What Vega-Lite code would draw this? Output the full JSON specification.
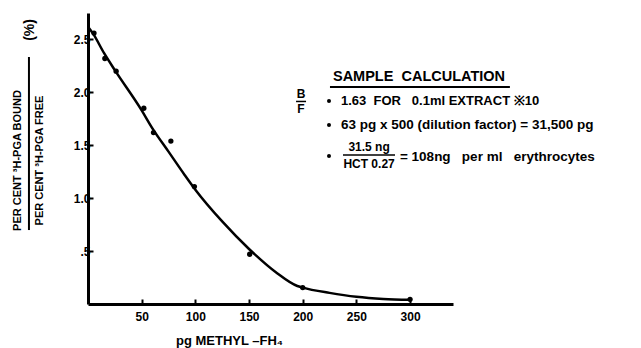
{
  "$schema": "https://vega.github.io/schema/vega-lite/v6.json",
  "width": 365,
  "height": 291,
  "autosize": {"type": "none"},
  "padding": {"left": 88, "top": 13, "right": 188, "bottom": 44},
  "background": "white",
  "config": {
    "view": {"stroke": null},
    "font": "Liberation Sans",
    "axis": {
      "grid": false,
      "domainColor": "black",
      "domainWidth": 3,
      "tickColor": "black",
      "tickWidth": 2,
      "tickSize": -5,
      "labelColor": "black",
      "labelFont": "Liberation Sans",
      "labelFontWeight": "bold",
      "labelFontSize": 12,
      "titleColor": "black",
      "titleFont": "Liberation Sans",
      "titleFontWeight": "bold"
    },
    "text": {"font": "Liberation Sans", "fontWeight": "bold", "color": "black"}
  },
  "datasets": {
    "points": [
      {"methyl_pg": 5.6, "ratio": 2.56},
      {"methyl_pg": 15.7, "ratio": 2.32},
      {"methyl_pg": 26.2, "ratio": 2.2},
      {"methyl_pg": 52, "ratio": 1.85},
      {"methyl_pg": 61, "ratio": 1.62},
      {"methyl_pg": 77.2, "ratio": 1.54},
      {"methyl_pg": 99.1, "ratio": 1.11},
      {"methyl_pg": 150.6, "ratio": 0.47},
      {"methyl_pg": 200, "ratio": 0.155},
      {"methyl_pg": 300, "ratio": 0.044}
    ],
    "curve": [
      {"methyl_pg": 0, "ratio": 2.62},
      {"methyl_pg": 5, "ratio": 2.55},
      {"methyl_pg": 15, "ratio": 2.37},
      {"methyl_pg": 25, "ratio": 2.21},
      {"methyl_pg": 50, "ratio": 1.83},
      {"methyl_pg": 60, "ratio": 1.66},
      {"methyl_pg": 75, "ratio": 1.44},
      {"methyl_pg": 90, "ratio": 1.22},
      {"methyl_pg": 100, "ratio": 1.08},
      {"methyl_pg": 125, "ratio": 0.78},
      {"methyl_pg": 150, "ratio": 0.52},
      {"methyl_pg": 175, "ratio": 0.3},
      {"methyl_pg": 195, "ratio": 0.17},
      {"methyl_pg": 200, "ratio": 0.155},
      {"methyl_pg": 225, "ratio": 0.105},
      {"methyl_pg": 250, "ratio": 0.068},
      {"methyl_pg": 275, "ratio": 0.048},
      {"methyl_pg": 300, "ratio": 0.04}
    ]
  },
  "layer": [
    {
      "data": {"name": "curve"},
      "mark": {"type": "line", "interpolate": "monotone", "color": "black", "strokeWidth": 2.5},
      "encoding": {
        "x": {
          "field": "methyl_pg", "type": "quantitative",
          "scale": {"domain": [0, 340], "nice": false},
          "axis": {
            "values": [50, 100, 150, 200, 250, 300],
            "labelPadding": 12,
            "title": "pg METHYL –FH₄",
            "titleFontSize": 13,
            "titleX": 141,
            "titleY": 36,
            "titleBaseline": "middle",
            "titleAnchor": "middle"
          }
        },
        "y": {
          "field": "ratio", "type": "quantitative",
          "scale": {"domain": [0, 2.75], "nice": false},
          "axis": {
            "values": [0.5, 1, 1.5, 2, 2.5],
            "labelExpr": "datum.value == 0.5 ? '.5' : format(datum.value, '.1f')",
            "labelPadding": 3,
            "title": ["PER CENT ³H-PGA BOUND", "PER CENT ³H-PGA FREE"],
            "titleFontSize": 11,
            "titleLineHeight": 22,
            "titleAngle": 270,
            "titleX": -71,
            "titleY": 147,
            "titleAlign": "center",
            "titleBaseline": "middle"
          }
        }
      }
    },
    {
      "data": {"name": "points"},
      "mark": {"type": "circle", "color": "black", "opacity": 1, "size": 28},
      "encoding": {
        "x": {"field": "methyl_pg", "type": "quantitative"},
        "y": {"field": "ratio", "type": "quantitative"}
      }
    },
    {
      "data": {"values": [{"label": "(%)"}]},
      "mark": {"type": "text", "angle": 270, "fontSize": 14, "clip": false, "align": "center", "baseline": "middle"},
      "encoding": {"x": {"datum": -54}, "y": {"datum": 2.59}, "text": {"field": "label"}}
    },
    {
      "data": {"values": [{"part": "fraction bar"}]},
      "mark": {"type": "rule", "color": "black", "strokeWidth": 2, "clip": false},
      "encoding": {"x": {"datum": -55}, "y": {"datum": 2.334}, "y2": {"datum": 0.699}}
    },
    {
      "data": {"values": [{"label": "SAMPLE\u00a0\u00a0CALCULATION"}]},
      "mark": {"type": "text", "fontSize": 14.5, "align": "left", "baseline": "middle"},
      "encoding": {"x": {"datum": 228.2}, "y": {"datum": 2.145}, "text": {"field": "label"}}
    },
    {
      "data": {"values": [{"part": "underline"}]},
      "mark": {"type": "rule", "color": "black", "strokeWidth": 2},
      "encoding": {"x": {"datum": 225.4}, "x2": {"datum": 393}, "y": {"datum": 2.051}}
    },
    {
      "data": {"values": [{"label": "B"}]},
      "mark": {"type": "text", "fontSize": 12, "align": "center", "baseline": "middle"},
      "encoding": {"x": {"datum": 198.4}, "y": {"datum": 1.985}, "text": {"field": "label"}}
    },
    {
      "data": {"values": [{"label": "F"}]},
      "mark": {"type": "text", "fontSize": 12, "align": "center", "baseline": "middle"},
      "encoding": {"x": {"datum": 198.4}, "y": {"datum": 1.843}, "text": {"field": "label"}}
    },
    {
      "data": {"values": [{"part": "B/F bar"}]},
      "mark": {"type": "rule", "color": "black", "strokeWidth": 1.5},
      "encoding": {"x": {"datum": 193.8}, "x2": {"datum": 203.1}, "y": {"datum": 1.914}}
    },
    {
      "data": {"values": [{"bullet": 1}]},
      "mark": {"type": "circle", "color": "black", "opacity": 1, "size": 16},
      "encoding": {"x": {"datum": 224.5}, "y": {"datum": 1.918}}
    },
    {
      "data": {"values": [{"bullet": 2}]},
      "mark": {"type": "circle", "color": "black", "opacity": 1, "size": 16},
      "encoding": {"x": {"datum": 224.5}, "y": {"datum": 1.692}}
    },
    {
      "data": {"values": [{"bullet": 3}]},
      "mark": {"type": "circle", "color": "black", "opacity": 1, "size": 16},
      "encoding": {"x": {"datum": 224.5}, "y": {"datum": 1.399}}
    },
    {
      "data": {"values": [{"label": "1.63\u00a0 FOR\u00a0\u00a0 0.1ml EXTRACT ※10"}]},
      "mark": {"type": "text", "fontSize": 13, "align": "left", "baseline": "middle"},
      "encoding": {"x": {"datum": 235.7}, "y": {"datum": 1.918}, "text": {"field": "label"}}
    },
    {
      "data": {"values": [{"label": "63 pg x 500 (dilution factor) = 31,500 pg"}]},
      "mark": {"type": "text", "fontSize": 13.5, "align": "left", "baseline": "middle"},
      "encoding": {"x": {"datum": 235.7}, "y": {"datum": 1.692}, "text": {"field": "label"}}
    },
    {
      "data": {"values": [{"label": "31.5 ng"}]},
      "mark": {"type": "text", "fontSize": 12, "align": "center", "baseline": "middle"},
      "encoding": {"x": {"datum": 261.8}, "y": {"datum": 1.484}, "text": {"field": "label"}}
    },
    {
      "data": {"values": [{"part": "ng bar"}]},
      "mark": {"type": "rule", "color": "black", "strokeWidth": 1.5},
      "encoding": {"x": {"datum": 237.5}, "x2": {"datum": 286}, "y": {"datum": 1.408}}
    },
    {
      "data": {"values": [{"label": "HCT 0.27"}]},
      "mark": {"type": "text", "fontSize": 12, "align": "center", "baseline": "middle"},
      "encoding": {"x": {"datum": 261.8}, "y": {"datum": 1.323}, "text": {"field": "label"}}
    },
    {
      "data": {"values": [{"label": "= 108ng\u00a0\u00a0 per ml\u00a0\u00a0 erythrocytes"}]},
      "mark": {"type": "text", "fontSize": 13.5, "align": "left", "baseline": "middle"},
      "encoding": {"x": {"datum": 290.6}, "y": {"datum": 1.389}, "text": {"field": "label"}}
    }
  ]
}
